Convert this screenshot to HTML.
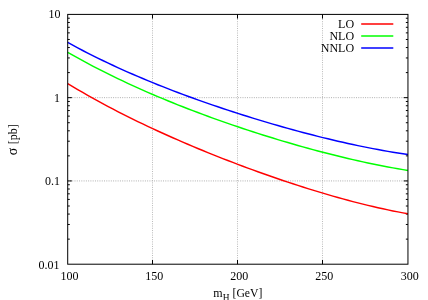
<!DOCTYPE html>
<html><head><meta charset="utf-8"><title>plot</title>
<style>html,body{margin:0;padding:0;background:#fff;}body{width:428px;height:300px;overflow:hidden;font-family:"Liberation Serif",serif;}</style>
</head><body>
<svg width="428" height="300" viewBox="0 0 428 300" style="display:block;will-change:transform">
<rect width="428" height="300" fill="#fff"/>
<g stroke="#000" stroke-width="1" stroke-dasharray="1,1.27" fill="none" opacity="0.32">
<line x1="152.50" y1="14.4" x2="152.50" y2="264.2" opacity="0.85"/>
<line x1="237.50" y1="14.4" x2="237.50" y2="264.2" opacity="0.85"/>
<line x1="322.50" y1="14.4" x2="322.50" y2="264.2" opacity="0.85"/>
<line x1="67.7" y1="97.67" x2="407.95" y2="97.67"/>
<line x1="67.7" y1="180.93" x2="407.95" y2="180.93"/>
</g>
<g stroke="#000" stroke-width="1" fill="none">
<line x1="152.50" y1="264.2" x2="152.50" y2="260.0"/>
<line x1="152.50" y1="14.4" x2="152.50" y2="18.6"/>
<line x1="237.50" y1="264.2" x2="237.50" y2="260.0"/>
<line x1="237.50" y1="14.4" x2="237.50" y2="18.6"/>
<line x1="322.50" y1="264.2" x2="322.50" y2="260.0"/>
<line x1="322.50" y1="14.4" x2="322.50" y2="18.6"/>
<line x1="67.7" y1="72.60" x2="69.80" y2="72.60"/>
<line x1="407.95" y1="72.60" x2="405.85" y2="72.60"/>
<line x1="67.7" y1="57.94" x2="69.80" y2="57.94"/>
<line x1="407.95" y1="57.94" x2="405.85" y2="57.94"/>
<line x1="67.7" y1="47.54" x2="69.80" y2="47.54"/>
<line x1="407.95" y1="47.54" x2="405.85" y2="47.54"/>
<line x1="67.7" y1="39.47" x2="69.80" y2="39.47"/>
<line x1="407.95" y1="39.47" x2="405.85" y2="39.47"/>
<line x1="67.7" y1="32.87" x2="69.80" y2="32.87"/>
<line x1="407.95" y1="32.87" x2="405.85" y2="32.87"/>
<line x1="67.7" y1="27.30" x2="69.80" y2="27.30"/>
<line x1="407.95" y1="27.30" x2="405.85" y2="27.30"/>
<line x1="67.7" y1="22.47" x2="69.80" y2="22.47"/>
<line x1="407.95" y1="22.47" x2="405.85" y2="22.47"/>
<line x1="67.7" y1="18.21" x2="69.80" y2="18.21"/>
<line x1="407.95" y1="18.21" x2="405.85" y2="18.21"/>
<line x1="67.7" y1="97.67" x2="71.90" y2="97.67"/>
<line x1="407.95" y1="97.67" x2="403.75" y2="97.67"/>
<line x1="67.7" y1="155.87" x2="69.80" y2="155.87"/>
<line x1="407.95" y1="155.87" x2="405.85" y2="155.87"/>
<line x1="67.7" y1="141.21" x2="69.80" y2="141.21"/>
<line x1="407.95" y1="141.21" x2="405.85" y2="141.21"/>
<line x1="67.7" y1="130.80" x2="69.80" y2="130.80"/>
<line x1="407.95" y1="130.80" x2="405.85" y2="130.80"/>
<line x1="67.7" y1="122.73" x2="69.80" y2="122.73"/>
<line x1="407.95" y1="122.73" x2="405.85" y2="122.73"/>
<line x1="67.7" y1="116.14" x2="69.80" y2="116.14"/>
<line x1="407.95" y1="116.14" x2="405.85" y2="116.14"/>
<line x1="67.7" y1="110.56" x2="69.80" y2="110.56"/>
<line x1="407.95" y1="110.56" x2="405.85" y2="110.56"/>
<line x1="67.7" y1="105.74" x2="69.80" y2="105.74"/>
<line x1="407.95" y1="105.74" x2="405.85" y2="105.74"/>
<line x1="67.7" y1="101.48" x2="69.80" y2="101.48"/>
<line x1="407.95" y1="101.48" x2="405.85" y2="101.48"/>
<line x1="67.7" y1="180.93" x2="71.90" y2="180.93"/>
<line x1="407.95" y1="180.93" x2="403.75" y2="180.93"/>
<line x1="67.7" y1="239.13" x2="69.80" y2="239.13"/>
<line x1="407.95" y1="239.13" x2="405.85" y2="239.13"/>
<line x1="67.7" y1="224.47" x2="69.80" y2="224.47"/>
<line x1="407.95" y1="224.47" x2="405.85" y2="224.47"/>
<line x1="67.7" y1="214.07" x2="69.80" y2="214.07"/>
<line x1="407.95" y1="214.07" x2="405.85" y2="214.07"/>
<line x1="67.7" y1="206.00" x2="69.80" y2="206.00"/>
<line x1="407.95" y1="206.00" x2="405.85" y2="206.00"/>
<line x1="67.7" y1="199.41" x2="69.80" y2="199.41"/>
<line x1="407.95" y1="199.41" x2="405.85" y2="199.41"/>
<line x1="67.7" y1="193.83" x2="69.80" y2="193.83"/>
<line x1="407.95" y1="193.83" x2="405.85" y2="193.83"/>
<line x1="67.7" y1="189.00" x2="69.80" y2="189.00"/>
<line x1="407.95" y1="189.00" x2="405.85" y2="189.00"/>
<line x1="67.7" y1="184.74" x2="69.80" y2="184.74"/>
<line x1="407.95" y1="184.74" x2="405.85" y2="184.74"/>
</g>
<g fill="none" stroke-width="1.45" stroke-linecap="butt" stroke-linejoin="round">
<path d="M67.70,83.53 L72.70,86.55 L77.71,89.52 L82.71,92.44 L87.71,95.30 L92.72,98.12 L97.72,100.89 L102.73,103.61 L107.73,106.30 L112.73,108.94 L117.74,111.53 L122.74,114.09 L127.74,116.61 L132.75,119.10 L137.75,121.54 L142.76,123.96 L147.76,126.34 L152.76,128.68 L157.77,131.00 L162.77,133.28 L167.77,135.53 L172.78,137.76 L177.78,139.96 L182.78,142.13 L187.79,144.27 L192.79,146.39 L197.80,148.48 L202.80,150.54 L207.80,152.58 L212.81,154.60 L217.81,156.60 L222.81,158.57 L227.82,160.51 L232.82,162.44 L237.82,164.34 L242.83,166.22 L247.83,168.08 L252.84,169.91 L257.84,171.73 L262.84,173.52 L267.85,175.29 L272.85,177.03 L277.85,178.76 L282.86,180.46 L287.86,182.13 L292.87,183.79 L297.87,185.42 L302.87,187.02 L307.88,188.60 L312.88,190.15 L317.88,191.68 L322.89,193.18 L327.89,194.66 L332.89,196.10 L337.90,197.52 L342.90,198.91 L347.91,200.27 L352.91,201.59 L357.91,202.88 L362.92,204.14 L367.92,205.36 L372.92,206.55 L377.93,207.70 L382.93,208.82 L387.94,209.89 L392.94,210.92 L397.94,211.91 L402.95,212.86 L407.95,213.76" stroke="#ff0000"/>
<path d="M67.70,52.27 L72.70,55.13 L77.71,57.93 L82.71,60.67 L87.71,63.37 L92.72,66.02 L97.72,68.62 L102.73,71.17 L107.73,73.68 L112.73,76.15 L117.74,78.57 L122.74,80.96 L127.74,83.30 L132.75,85.61 L137.75,87.87 L142.76,90.10 L147.76,92.30 L152.76,94.46 L157.77,96.59 L162.77,98.69 L167.77,100.76 L172.78,102.79 L177.78,104.80 L182.78,106.78 L187.79,108.72 L192.79,110.65 L197.80,112.54 L202.80,114.41 L207.80,116.25 L212.81,118.07 L217.81,119.86 L222.81,121.63 L227.82,123.38 L232.82,125.10 L237.82,126.80 L242.83,128.47 L247.83,130.13 L252.84,131.76 L257.84,133.37 L262.84,134.95 L267.85,136.52 L272.85,138.06 L277.85,139.58 L282.86,141.08 L287.86,142.56 L292.87,144.01 L297.87,145.44 L302.87,146.85 L307.88,148.24 L312.88,149.60 L317.88,150.94 L322.89,152.26 L327.89,153.55 L332.89,154.82 L337.90,156.06 L342.90,157.27 L347.91,158.46 L352.91,159.63 L357.91,160.76 L362.92,161.87 L367.92,162.94 L372.92,163.99 L377.93,165.01 L382.93,165.99 L387.94,166.95 L392.94,167.87 L397.94,168.75 L402.95,169.60 L407.95,170.41" stroke="#00ff00"/>
<path d="M67.70,42.46 L72.70,45.19 L77.71,47.87 L82.71,50.50 L87.71,53.07 L92.72,55.60 L97.72,58.08 L102.73,60.52 L107.73,62.91 L112.73,65.26 L117.74,67.57 L122.74,69.84 L127.74,72.07 L132.75,74.26 L137.75,76.42 L142.76,78.54 L147.76,80.63 L152.76,82.68 L157.77,84.71 L162.77,86.70 L167.77,88.66 L172.78,90.60 L177.78,92.50 L182.78,94.38 L187.79,96.23 L192.79,98.05 L197.80,99.85 L202.80,101.63 L207.80,103.38 L212.81,105.11 L217.81,106.81 L222.81,108.49 L227.82,110.15 L232.82,111.78 L237.82,113.40 L242.83,114.99 L247.83,116.56 L252.84,118.11 L257.84,119.64 L262.84,121.15 L267.85,122.64 L272.85,124.10 L277.85,125.55 L282.86,126.97 L287.86,128.38 L292.87,129.76 L297.87,131.12 L302.87,132.45 L307.88,133.77 L312.88,135.06 L317.88,136.33 L322.89,137.58 L327.89,138.80 L332.89,140.00 L337.90,141.17 L342.90,142.32 L347.91,143.44 L352.91,144.53 L357.91,145.60 L362.92,146.64 L367.92,147.64 L372.92,148.62 L377.93,149.56 L382.93,150.48 L387.94,151.36 L392.94,152.20 L397.94,153.01 L402.95,153.79 L407.95,154.52" stroke="#0000ff"/>
<line x1="361.2" y1="24" x2="393.3" y2="24" stroke="#ff0000"/>
<line x1="361.2" y1="36" x2="393.3" y2="36" stroke="#00ff00"/>
<line x1="361.2" y1="48" x2="393.3" y2="48" stroke="#0000ff"/>
</g>
<rect x="67.7" y="14.4" width="340.25" height="249.80" fill="none" stroke="#000" stroke-width="1"/>
<g font-family="Liberation Serif, serif" font-size="12px" fill="#000">
<text x="60.5" y="17.90" text-anchor="end">10</text>
<text x="60" y="101.57" text-anchor="end">1</text>
<text x="60" y="185.13" text-anchor="end">0.1</text>
<text x="59.6" y="268.65" text-anchor="end">0.01</text>
<text x="69.45" y="280.2" text-anchor="middle">100</text>
<text x="154.25" y="280.2" text-anchor="middle">150</text>
<text x="239.25" y="280.2" text-anchor="middle">200</text>
<text x="324.25" y="280.2" text-anchor="middle">250</text>
<text x="409.70" y="280.2" text-anchor="middle">300</text>
<text x="354.1" y="28" text-anchor="end">LO</text>
<text x="354.1" y="40" text-anchor="end">NLO</text>
<text x="354.1" y="52" text-anchor="end">NNLO</text>
<text x="213.27" y="297.1">m</text>
<text x="222.7" y="301.1" font-size="9.4px">H</text>
<text x="232.5" y="297.1" font-size="11.7px">[GeV]</text>
<text transform="translate(16.5,155.3) rotate(-90)" word-spacing="0.4"><tspan font-size="14px">σ</tspan> [pb]</text>
</g>
</svg>
</body></html>
